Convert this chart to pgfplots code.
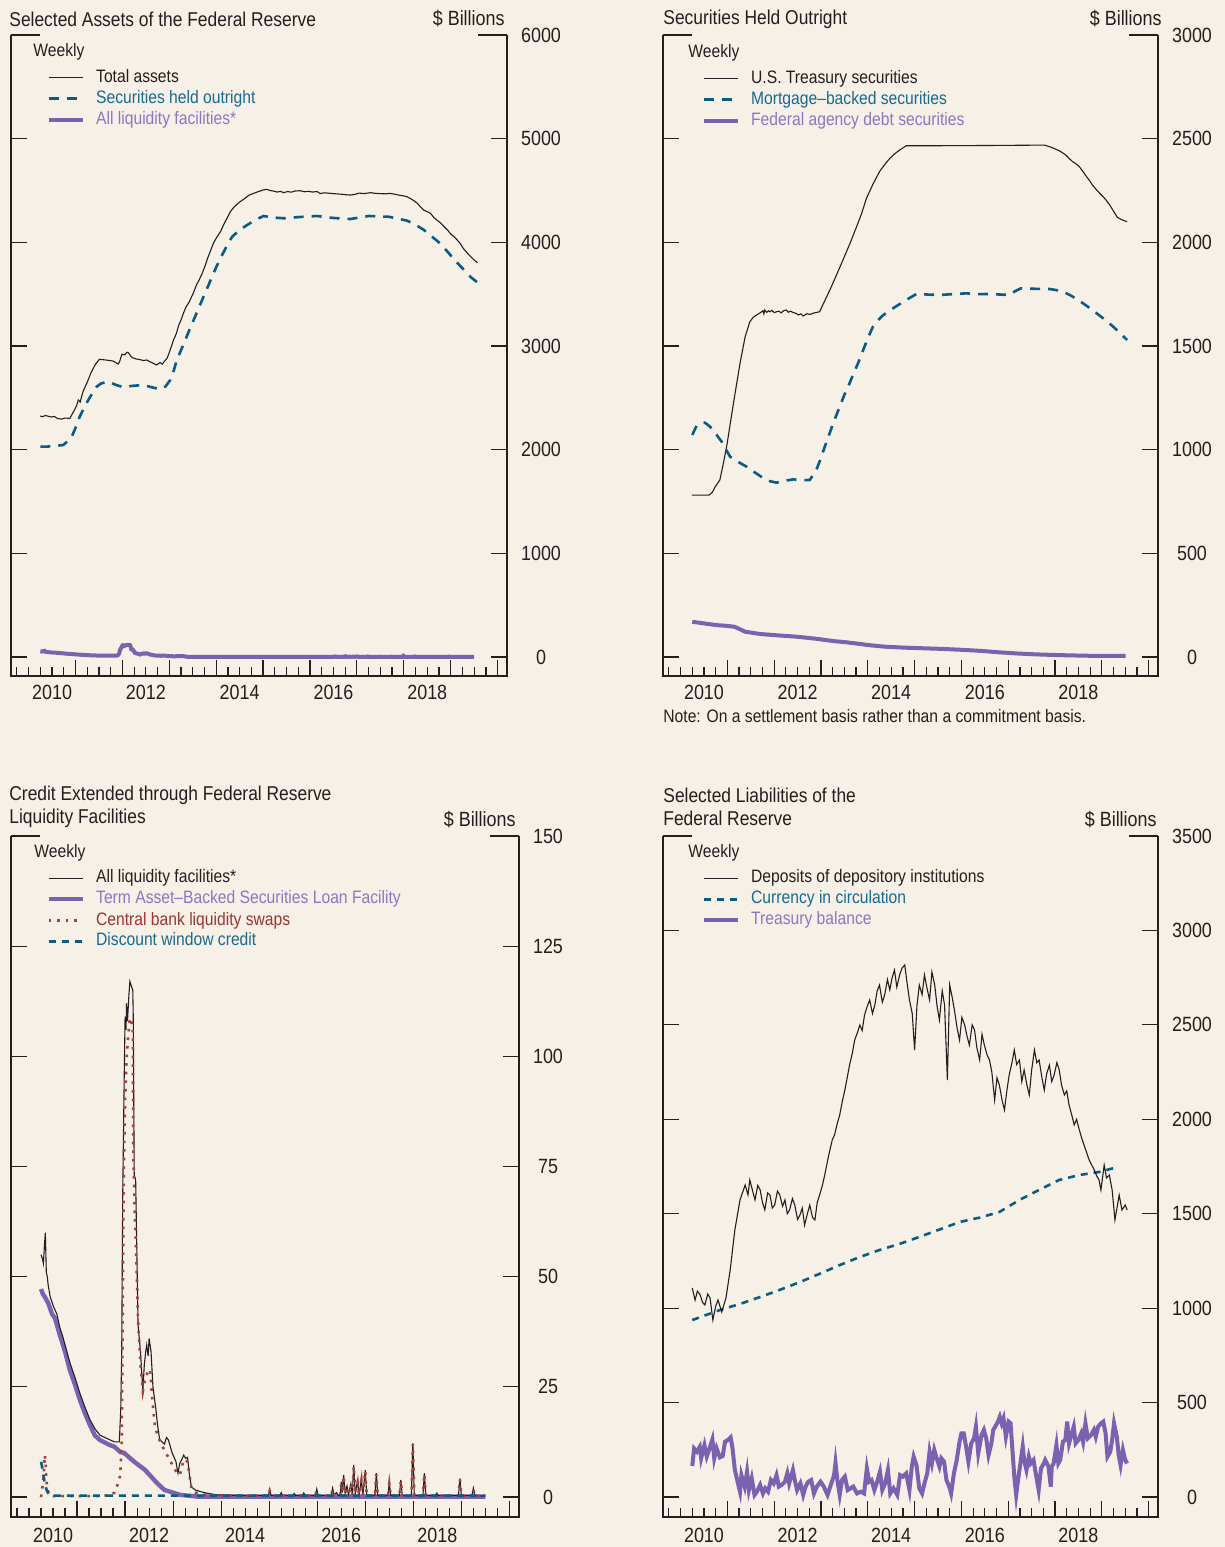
\documentclass[border=0pt]{standalone}
\usepackage{fontspec}
\setmainfont{Liberation Sans}[FakeStretch=0.87]
\usepackage{pgfplots}
\usepackage{pgfplotstable}
\pgfplotsset{compat=1.18}
\definecolor{bg}{HTML}{F7F0E6}
\definecolor{ink}{HTML}{231F20}
\definecolor{fedblue}{HTML}{0B5C82}
\definecolor{fedbluetext}{HTML}{176A90}
\definecolor{fedpurple}{HTML}{7A62B0}
\definecolor{fedpurpletext}{HTML}{8C76C2}
\definecolor{fedred}{HTML}{A3423C}
\definecolor{fedredtext}{HTML}{9A3530}

% ---------- Panel 1 data ----------
\pgfplotstableread{
t v
2010.25 2325
2010.30 2318
2010.36 2330
2010.42 2322
2010.48 2315
2010.55 2320
2010.62 2300
2010.70 2295
2010.78 2305
2010.88 2302
2010.95 2360
2011.02 2420
2011.06 2480
2011.10 2460
2011.16 2560
2011.25 2650
2011.33 2740
2011.42 2820
2011.51 2872
2011.58 2868
2011.65 2865
2011.72 2860
2011.80 2855
2011.86 2840
2011.91 2826
2011.94 2850
2011.99 2920
2012.05 2915
2012.10 2940
2012.13 2935
2012.18 2900
2012.23 2884
2012.30 2875
2012.38 2868
2012.45 2860
2012.52 2865
2012.58 2850
2012.65 2835
2012.73 2817
2012.80 2840
2012.85 2825
2012.90 2855
2012.95 2880
2012.98 2913
2013.04 2990
2013.09 3058
2013.15 3120
2013.20 3200
2013.25 3250
2013.30 3315
2013.36 3380
2013.42 3420
2013.47 3470
2013.51 3508
2013.58 3590
2013.64 3640
2013.70 3700
2013.76 3770
2013.82 3850
2013.88 3920
2013.94 3991
2014.00 4040
2014.09 4102
2014.18 4190
2014.24 4240
2014.30 4295
2014.38 4340
2014.45 4370
2014.51 4392
2014.60 4420
2014.70 4455
2014.80 4473
2014.90 4490
2015.00 4505
2015.08 4511
2015.15 4500
2015.22 4495
2015.30 4485
2015.37 4492
2015.44 4479
2015.52 4490
2015.60 4484
2015.68 4495
2015.79 4498
2015.88 4488
2015.97 4492
2016.05 4485
2016.15 4490
2016.22 4470
2016.30 4478
2016.43 4473
2016.55 4468
2016.65 4465
2016.75 4460
2016.86 4456
2016.95 4462
2017.05 4475
2017.15 4470
2017.29 4479
2017.40 4472
2017.50 4470
2017.60 4468
2017.70 4472
2017.79 4466
2017.90 4455
2018.00 4448
2018.07 4440
2018.15 4420
2018.22 4400
2018.29 4376
2018.36 4340
2018.43 4310
2018.50 4295
2018.57 4280
2018.64 4240
2018.72 4210
2018.79 4185
2018.86 4151
2018.93 4120
2019.00 4080
2019.07 4055
2019.14 4022
2019.20 3990
2019.27 3940
2019.36 3894
2019.43 3860
2019.50 3830
2019.57 3803
}\totalassets

\pgfplotstableread{
t v
2010.25 2029
2010.40 2030
2010.55 2035
2010.74 2045
2010.84 2085
2010.92 2125
2011.00 2210
2011.09 2318
2011.20 2420
2011.30 2500
2011.45 2607
2011.55 2640
2011.70 2656
2011.86 2625
2012.02 2602
2012.20 2615
2012.45 2624
2012.60 2605
2012.80 2582
2012.92 2610
2013.02 2672
2013.10 2770
2013.16 2865
2013.26 2970
2013.37 3090
2013.46 3190
2013.55 3283
2013.64 3380
2013.73 3476
2013.82 3570
2013.91 3668
2014.00 3760
2014.09 3846
2014.22 3960
2014.34 4054
2014.50 4120
2014.66 4167
2014.85 4220
2015.01 4254
2015.20 4240
2015.44 4232
2015.80 4245
2016.15 4254
2016.50 4235
2016.86 4225
2017.25 4254
2017.68 4247
2018.07 4209
2018.25 4170
2018.43 4119
2018.60 4055
2018.79 3984
2018.93 3910
2019.07 3836
2019.25 3750
2019.43 3663
2019.56 3617
}\securities

% ---------- Panel 2 data ----------
\pgfplotstableread{
t v
2010.24 781
2010.61 781
2010.68 795
2010.74 821
2010.84 854
2010.92 940
2010.99 1022
2011.13 1224
2011.27 1416
2011.38 1545
2011.48 1617
2011.55 1638
2011.62 1649
2011.70 1660
2011.76 1670
2011.78 1655
2011.80 1674
2011.84 1662
2011.88 1670
2011.91 1665
2011.95 1672
2012.00 1661
2012.05 1665
2012.10 1668
2012.15 1660
2012.20 1670
2012.26 1674
2012.30 1663
2012.35 1668
2012.41 1661
2012.46 1658
2012.52 1650
2012.57 1655
2012.62 1645
2012.66 1650
2012.70 1656
2012.76 1652
2012.83 1658
2012.90 1662
2012.97 1665
2013.08 1718
2013.19 1770
2013.33 1842
2013.47 1915
2013.62 1995
2013.76 2075
2013.87 2140
2013.97 2212
2014.11 2280
2014.25 2341
2014.36 2375
2014.47 2405
2014.58 2428
2014.68 2445
2014.82 2466
2015.50 2466
2016.50 2467
2017.77 2469
2017.90 2460
2018.02 2449
2018.12 2438
2018.23 2421
2018.30 2405
2018.37 2390
2018.45 2378
2018.52 2365
2018.60 2340
2018.67 2318
2018.73 2300
2018.80 2276
2018.88 2255
2018.95 2238
2019.02 2222
2019.09 2204
2019.17 2180
2019.25 2150
2019.33 2121
2019.40 2112
2019.47 2105
2019.54 2100
}\treasury

\pgfplotstableread{
t v
2010.25 1071
2010.35 1119
2010.44 1128
2010.52 1130
2010.61 1115
2010.70 1095
2010.79 1065
2010.88 1038
2010.97 1000
2011.06 966
2011.24 940
2011.41 918
2011.59 890
2011.77 862
2011.91 848
2012.05 841
2012.23 850
2012.41 857
2012.58 852
2012.76 854
2012.90 902
2013.00 960
2013.08 1014
2013.17 1070
2013.26 1127
2013.40 1207
2013.50 1265
2013.61 1320
2013.70 1370
2013.79 1416
2013.93 1497
2014.02 1548
2014.11 1593
2014.20 1620
2014.29 1641
2014.42 1665
2014.54 1682
2014.68 1702
2014.82 1722
2015.04 1751
2015.30 1748
2015.53 1746
2015.80 1750
2016.10 1754
2016.35 1750
2016.60 1751
2016.85 1748
2017.03 1746
2017.15 1765
2017.27 1778
2017.55 1776
2017.88 1775
2018.02 1770
2018.17 1762
2018.35 1742
2018.52 1718
2018.70 1690
2018.87 1661
2019.05 1630
2019.23 1596
2019.40 1560
2019.54 1529
}\mbs

\pgfplotstableread{
t v
2010.25 170
2010.50 162
2010.76 154
2011.00 150
2011.15 146
2011.25 136
2011.38 122
2011.70 111
2012.10 104
2012.48 98
2012.90 88
2013.26 77
2013.50 72
2013.73 66
2014.00 58
2014.35 50
2014.80 45
2015.21 42
2015.60 39
2016.07 34
2016.45 29
2016.78 23
2017.20 17
2017.56 13
2017.95 10
2018.30 8
2018.73 6
2019.10 6
2019.51 6
}\agency

% ---------- Panel 3 data ----------
\pgfplotstableread{
t v
2010.25 55
2010.28 54
2010.30 53
2010.32 57
2010.34 60
2010.36 51
2010.38 50
2010.40 48
2010.44 45.5
2010.51 43.2
2010.58 41.5
2010.64 38.5
2010.70 36.5
2010.75 34.5
2010.85 30.5
2010.96 27
2011.06 23.5
2011.16 20.5
2011.27 17.5
2011.37 15.5
2011.48 14
2011.58 13.5
2011.68 13
2011.78 12.5
2011.88 12.5
2011.91 20
2011.93 33
2011.95 68
2011.98 94
2012.00 109
2012.02 106
2012.03 112
2012.05 108
2012.08 114
2012.10 117
2012.13 116
2012.16 115
2012.17 109
2012.19 73
2012.22 72
2012.27 39
2012.32 33
2012.37 24
2012.40 30
2012.43 33
2012.45 34.5
2012.48 32
2012.50 36
2012.54 33
2012.58 25
2012.64 20
2012.68 16
2012.72 13
2012.77 12.5
2012.82 12
2012.86 13.5
2012.90 13
2012.98 10
2013.06 8
2013.10 5.4
2013.14 7.7
2013.18 8.5
2013.22 9.5
2013.26 8.8
2013.30 9
2013.34 5
2013.38 2.3
2013.46 1.6
2013.58 1.2
2013.69 0.9
2013.90 0.5
2014.20 0.4
2014.60 0.3
2014.98 0.3
2015.01 1.5
2015.04 0.3
2015.22 0.3
2015.25 1.0
2015.28 0.3
2015.49 0.3
2015.52 0.8
2015.55 0.3
2015.69 0.3
2015.72 0.9
2015.75 0.3
2015.96 0.3
2015.99 1.8
2016.02 0.3
2016.29 0.3
2016.32 2.0
2016.35 0.5
2016.40 1.0
2016.44 0.3
2016.48 0.5
2016.50 3.5
2016.52 1.0
2016.55 5.0
2016.58 0.8
2016.62 2.5
2016.65 0.5
2016.70 3.0
2016.73 0.6
2016.76 7.3
2016.79 0.8
2016.84 3.5
2016.87 0.5
2016.92 4.0
2016.95 0.5
2017.00 6.1
2017.03 0.4
2017.20 0.3
2017.23 5.4
2017.26 0.3
2017.47 0.3
2017.50 3.2
2017.53 0.3
2017.71 0.3
2017.74 3.9
2017.77 0.3
2017.96 0.3
2017.99 12.2
2018.02 0.3
2018.20 0.3
2018.23 5.4
2018.26 0.3
2018.46 0.3
2018.49 0.9
2018.52 0.3
2018.94 0.3
2018.97 4.2
2019.00 0.3
2019.22 0.3
2019.25 2.0
2019.28 0.3
2019.50 0.2
}\liquidity

\pgfplotstableread{
t v
2010.25 0
2010.29 3
2010.31 6
2010.33 9.5
2010.35 7
2010.36 4
2010.38 2
2010.42 0.5
2010.50 0.2
2011.50 0.2
2011.70 0.5
2011.78 1
2011.85 3
2011.90 5
2011.93 13
2011.95 40
2011.97 71
2012.00 90
2012.03 99
2012.06 104
2012.10 108.7
2012.13 108
2012.16 106
2012.17 79
2012.20 65
2012.24 52
2012.27 40
2012.32 30
2012.37 24
2012.42 27
2012.46 28
2012.52 29
2012.56 23
2012.62 16
2012.68 14
2012.75 12
2012.85 10
2012.95 8
2013.05 6
2013.14 5
2013.22 8.5
2013.30 8
2013.38 2
2013.46 1
2013.69 0.5
2013.90 0.3
2014.60 0.3
2014.98 0.3
2015.01 1.4
2015.04 0.3
2015.96 0.3
2015.99 1.6
2016.02 0.3
2016.29 0.3
2016.32 1.8
2016.35 0.4
2016.48 0.4
2016.50 3.3
2016.52 0.9
2016.55 4.8
2016.58 0.7
2016.62 2.3
2016.65 0.4
2016.70 2.8
2016.73 0.5
2016.76 7.0
2016.79 0.7
2016.84 3.3
2016.87 0.4
2016.92 3.8
2016.95 0.4
2017.00 5.9
2017.03 0.3
2017.20 0.3
2017.23 5.2
2017.26 0.3
2017.47 0.3
2017.50 3.0
2017.53 0.3
2017.71 0.3
2017.74 3.7
2017.77 0.3
2017.96 0.3
2017.99 12.0
2018.02 0.3
2018.20 0.3
2018.23 5.2
2018.26 0.3
2018.94 0.3
2018.97 4.0
2019.00 0.3
2019.22 0.3
2019.25 1.8
2019.28 0.3
2019.50 0.2
}\swaps

\pgfplotstableread{
t v
2010.25 8
2010.27 7
2010.30 5
2010.33 3
2010.37 1.5
2010.42 0.5
2010.50 0.3
2019.50 0.3
}\discount

\pgfplotstableread{
t v
2010.25 47.2
2010.29 46
2010.33 45.4
2010.40 44
2010.48 41.5
2010.54 40.6
2010.64 36.8
2010.75 33
2010.85 28.8
2010.96 25.4
2011.06 22
2011.16 19.1
2011.27 16.3
2011.37 14
2011.48 12.9
2011.68 11.8
2011.78 11.4
2011.90 10.2
2011.98 10
2012.19 8
2012.42 6.1
2012.66 3.2
2012.82 1.6
2013.14 0.5
2013.50 0.1
2019.50 0.1
}\talf

% ---------- Panel 4 data ----------
\pgfplotstableread{
t v
2010.25 1107
2010.31 1043
2010.36 1090
2010.42 1070
2010.47 1030
2010.52 1017
2010.58 1075
2010.63 1054
2010.69 937
2010.75 1010
2010.80 1043
2010.88 980
2010.97 1054
2011.06 1202
2011.16 1414
2011.27 1573
2011.38 1652
2011.44 1600
2011.48 1679
2011.54 1620
2011.59 1573
2011.65 1650
2011.70 1626
2011.75 1560
2011.80 1520
2011.86 1610
2011.91 1599
2011.96 1530
2012.01 1546
2012.07 1620
2012.12 1599
2012.18 1540
2012.23 1573
2012.28 1500
2012.33 1520
2012.39 1580
2012.44 1546
2012.50 1470
2012.55 1493
2012.60 1530
2012.65 1440
2012.71 1500
2012.76 1546
2012.82 1480
2012.87 1467
2012.92 1560
2012.97 1599
2013.03 1650
2013.08 1705
2013.14 1780
2013.19 1837
2013.24 1890
2013.29 1917
2013.35 1980
2013.40 2023
2013.46 2100
2013.51 2155
2013.56 2220
2013.61 2287
2013.67 2350
2013.72 2420
2013.78 2460
2013.83 2499
2013.88 2470
2013.93 2552
2013.99 2600
2014.04 2632
2014.10 2560
2014.15 2605
2014.20 2680
2014.25 2711
2014.31 2620
2014.36 2658
2014.42 2740
2014.47 2685
2014.52 2750
2014.57 2790
2014.62 2700
2014.68 2764
2014.73 2800
2014.79 2817
2014.84 2720
2014.89 2632
2014.95 2560
2015.00 2367
2015.05 2600
2015.10 2711
2015.16 2660
2015.21 2764
2015.26 2700
2015.32 2632
2015.37 2780
2015.43 2711
2015.48 2600
2015.53 2526
2015.59 2680
2015.64 2605
2015.70 2208
2015.75 2711
2015.80 2650
2015.85 2579
2015.91 2480
2015.96 2420
2016.01 2540
2016.07 2499
2016.12 2440
2016.17 2393
2016.23 2500
2016.28 2473
2016.33 2380
2016.39 2314
2016.44 2450
2016.49 2393
2016.55 2340
2016.60 2314
2016.65 2250
2016.71 2102
2016.76 2220
2016.81 2182
2016.87 2100
2016.92 2049
2016.97 2150
2017.02 2234
2017.08 2300
2017.13 2367
2017.18 2290
2017.24 2314
2017.29 2200
2017.34 2261
2017.40 2180
2017.45 2129
2017.50 2260
2017.56 2367
2017.61 2300
2017.66 2314
2017.72 2220
2017.77 2155
2017.82 2240
2017.88 2287
2017.93 2200
2017.98 2234
2018.04 2300
2018.09 2261
2018.14 2180
2018.20 2129
2018.25 2150
2018.30 2076
2018.36 2020
2018.41 1970
2018.46 2000
2018.52 1943
2018.57 1900
2018.62 1864
2018.68 1820
2018.73 1784
2018.78 1760
2018.84 1731
2018.89 1700
2018.94 1679
2018.98 1626
2019.02 1700
2019.05 1758
2019.10 1690
2019.16 1705
2019.22 1626
2019.28 1467
2019.33 1540
2019.37 1599
2019.43 1520
2019.50 1546
2019.54 1520
}\deposits

\pgfplotstableread{
t v
2010.25 937
2010.84 990
2011.30 1025
2011.70 1059
2012.10 1095
2012.55 1138
2013.00 1185
2013.40 1228
2013.80 1268
2014.25 1308
2014.70 1342
2015.10 1377
2015.55 1418
2015.96 1456
2016.40 1480
2016.81 1509
2017.24 1573
2017.66 1626
2018.09 1679
2018.52 1705
2018.94 1721
2019.26 1742
}\currency

\pgfplotstableread{
t v
2010.25 164
2010.29 257
2010.35 240
2010.41 266
2010.44 205
2010.51 275
2010.56 214
2010.62 258
2010.68 305
2010.72 205
2010.77 258
2010.84 210
2010.90 217
2010.95 293
2011.01 302
2011.07 316
2011.11 258
2011.16 143
2011.21 90
2011.27 28
2011.30 116
2011.37 55
2011.42 134
2011.46 37
2011.52 99
2011.58 11
2011.63 28
2011.70 64
2011.76 19
2011.81 46
2011.87 28
2011.93 90
2011.99 72
2012.05 116
2012.10 55
2012.16 64
2012.23 81
2012.28 125
2012.32 72
2012.40 143
2012.44 90
2012.49 37
2012.56 72
2012.62 11
2012.67 55
2012.73 81
2012.79 90
2012.85 19
2012.91 55
2012.99 81
2013.06 55
2013.14 11
2013.22 72
2013.28 116
2013.31 182
2013.35 90
2013.40 11
2013.45 90
2013.51 108
2013.57 37
2013.63 46
2013.69 55
2013.77 19
2013.85 28
2013.92 19
2013.98 152
2014.03 81
2014.08 90
2014.14 37
2014.20 81
2014.26 134
2014.31 37
2014.37 72
2014.43 143
2014.48 19
2014.55 46
2014.63 11
2014.69 116
2014.75 108
2014.82 125
2014.89 37
2014.94 161
2014.98 214
2015.04 169
2015.10 46
2015.16 19
2015.21 72
2015.27 125
2015.32 240
2015.37 178
2015.42 249
2015.46 214
2015.53 161
2015.57 205
2015.63 187
2015.68 90
2015.74 55
2015.78 19
2015.84 125
2015.90 196
2015.96 293
2016.00 337
2016.05 337
2016.10 267
2016.15 187
2016.21 284
2016.27 311
2016.31 372
2016.36 231
2016.43 328
2016.48 355
2016.53 311
2016.58 222
2016.64 284
2016.68 355
2016.74 381
2016.78 399
2016.82 425
2016.86 390
2016.90 417
2016.95 319
2017.01 399
2017.05 390
2017.09 249
2017.13 108
2017.17 11
2017.21 90
2017.26 178
2017.31 267
2017.34 196
2017.39 143
2017.44 214
2017.48 178
2017.54 196
2017.60 108
2017.65 37
2017.70 152
2017.76 178
2017.79 196
2017.86 161
2017.91 55
2017.93 161
2017.97 178
2018.03 275
2018.07 178
2018.11 196
2018.17 293
2018.22 302
2018.26 399
2018.30 284
2018.36 337
2018.40 372
2018.44 284
2018.50 302
2018.56 337
2018.60 293
2018.65 390
2018.70 311
2018.77 328
2018.83 355
2018.87 319
2018.92 372
2018.98 390
2019.03 399
2019.08 337
2019.12 214
2019.18 240
2019.22 302
2019.26 390
2019.32 319
2019.36 222
2019.40 169
2019.45 249
2019.50 196
2019.54 178
}\tbalance

\pgfplotsset{
  fedaxis/.style={
    scale only axis,
    anchor=south west,
    clip=false,
    xmin=2009.625, xmax=2020.2,
    axis line style={draw=none},
    tick align=inside,
    xtick pos=left,
    ytick pos=both,
    yticklabel pos=right,
    xtick={2011,2012,...,2020},
    xticklabels={2010,,2012,,2014,,2016,,2018,},
    minor xtick={2009.75,2010,2010.25,2010.5,2010.75,2011.25,2011.5,2011.75,2012.25,2012.5,2012.75,2013.25,2013.5,2013.75,2014.25,2014.5,2014.75,2015.25,2015.5,2015.75,2016.25,2016.5,2016.75,2017.25,2017.5,2017.75,2018.25,2018.5,2018.75,2019.25,2019.5,2019.75},
    major tick length=8pt,
    minor tick length=4.5pt,
    every tick/.style={ink, line width=0.6pt},
    ticklabel style={font=\fontsize{10.3}{12}\selectfont, text=ink},
    /pgf/number format/assume math mode=true,
    yticklabel style={anchor=center, /pgf/number format/1000 sep={}},
    xticklabel style={anchor=center, yshift=-8pt, xshift=-11.7pt},
    scaled y ticks=false,
    legend cell align=left,
    legend style={draw=none, fill=none, anchor=north west, inner sep=0pt, outer sep=0pt,
      row sep=0.5pt, column sep=5pt, font=\fontsize{9}{10}\selectfont,
      nodes={inner sep=0.75pt, text height=6.5pt, text depth=2pt}},
  },
}
\tikzset{
  weekly/.style={anchor=west, inner sep=0pt, text=ink, font=\fontsize{9}{10}\selectfont},
  frame/.style={ink, line width=0.8pt},
  toptick/.style={ink, line width=0.6pt},
  ttl/.style={anchor=west, inner sep=0pt, text=ink, font=\fontsize{10}{12}\selectfont},
  unit/.style={anchor=east, inner sep=0pt, text=ink, font=\fontsize{10.3}{12}\selectfont},
}

\begin{document}
\begin{tikzpicture}
\useasboundingbox (0,0) rectangle (612.5pt,-773.5pt);
\fill[bg] (0,0) rectangle (612.5pt,-773.5pt);

% ================= Panel 1 =================
\node[ttl] at (4.5pt,-9.5pt) {Selected Assets of the Federal Reserve};
\node[unit] at (252.5pt,-9.5pt) {\$ Billions};
\begin{axis}[fedaxis, name=p1, at={(5.5pt,-338pt)},
  width=248pt, height=320.5pt,
  ymin=-183.3, ymax=6000, ytick={0,1000,...,6000},
  yticklabel style={xshift=17pt},
  legend style={at={(axis description cs:0.0716,0.9493)}}]
\addplot[ink, line width=0.55pt] table[x=t,y=v] {\totalassets};
\addlegendentry{\textcolor{ink}{Total assets}}
\addplot[fedblue, line width=1.3pt, dash pattern=on 5pt off 4pt] table[x=t,y=v] {\securities};
\addlegendentry{\textcolor{fedbluetext}{Securities held outright}}
\addplot[fedpurple, line width=2pt] table[x=t,y=v] {\liquidity};
\addlegendentry{\textcolor{fedpurpletext}{All liquidity facilities*}}
\node[weekly] at (axis description cs:0.0444,0.9735) {Weekly};
\end{axis}
\draw[frame] (p1.north west) -- (p1.south west) -- (p1.south east) -- (p1.north east);
\draw[toptick] (p1.north west) -- ++(14.5pt,0) (p1.north east) -- ++(-14.5pt,0);

% ================= Panel 2 =================
\node[ttl] at (331.5pt,-9.5pt) {Securities Held Outright};
\node[unit] at (581pt,-9.5pt) {\$ Billions};
\begin{axis}[fedaxis, name=p2, at={(331.5pt,-338pt)},
  width=247.5pt, height=320.5pt,
  ymin=-91.6, ymax=3000, ytick={0,500,...,3000},
  yticklabel style={xshift=17pt},
  legend style={at={(axis description cs:0.0778,0.9477)}}]
\addplot[ink, line width=0.55pt] table[x=t,y=v] {\treasury};
\addlegendentry{\textcolor{ink}{U.S. Treasury securities}}
\addplot[fedblue, line width=1.3pt, dash pattern=on 5pt off 4pt] table[x=t,y=v] {\mbs};
\addlegendentry{\textcolor{fedbluetext}{Mortgage--backed securities}}
\addplot[fedpurple, line width=2pt] table[x=t,y=v] {\agency};
\addlegendentry{\textcolor{fedpurpletext}{Federal agency debt securities}}
\node[weekly] at (axis description cs:0.0505,0.9719) {Weekly};
\end{axis}
\draw[frame] (p2.north west) -- (p2.south west) -- (p2.south east) -- (p2.north east);
\draw[toptick] (p2.north west) -- ++(14.5pt,0) (p2.north east) -- ++(-14.5pt,0);
\node[anchor=west, inner sep=0pt, text=ink, font=\fontsize{9}{10}\selectfont] at (331.5pt,-358pt) {Note: On a settlement basis rather than a commitment basis.};

% ================= Panel 3 =================
\node[ttl] at (4.5pt,-397.5pt) {Credit Extended through Federal Reserve};
\node[ttl] at (4.5pt,-409pt) {Liquidity Facilities};
\node[unit] at (258pt,-410pt) {\$ Billions};
\begin{axis}[fedaxis, name=p3, at={(5.5pt,-758.5pt)},
  width=254pt, height=340.5pt,
  ymin=-4.54, ymax=150, ytick={0,25,...,150},
  yticklabel style={xshift=14.5pt},
  xticklabel style={xshift=-0.3pt, yshift=-1pt},
  legend style={at={(axis description cs:0.0699,0.9523)}}]
\addlegendimage{ink, line width=0.55pt}
\addlegendentry{\textcolor{ink}{All liquidity facilities*}}
\addlegendimage{fedpurple, line width=2pt}
\addlegendentry{\textcolor{fedpurpletext}{Term Asset--Backed Securities Loan Facility}}
\addlegendimage{fedred, line width=1.3pt, dash pattern=on 1.3pt off 3pt}
\addlegendentry{\textcolor{fedredtext}{Central bank liquidity swaps}}
\addlegendimage{fedblue, line width=1.3pt, dash pattern=on 3.5pt off 3pt}
\addlegendentry{\textcolor{fedbluetext}{Discount window credit}}
\addplot[fedpurple, line width=2.2pt, forget plot] table[x=t,y=v] {\talf};
\addplot[ink, line width=0.55pt, forget plot] table[x=t,y=v] {\liquidity};
\addplot[fedred, line width=1.3pt, dash pattern=on 1.3pt off 3pt, forget plot] table[x=t,y=v] {\swaps};
\addplot[fedblue, line width=1.3pt, dash pattern=on 3.5pt off 3pt, forget plot] table[x=t,y=v] {\discount};
\node[weekly] at (axis description cs:0.0453,0.9751) {Weekly};
\end{axis}
\draw[frame] (p3.north west) -- (p3.south west) -- (p3.south east) -- (p3.north east);
\draw[toptick] (p3.north west) -- ++(14.5pt,0) (p3.north east) -- ++(-14.5pt,0);

% ================= Panel 4 =================
\node[ttl] at (331.5pt,-397.5pt) {Selected Liabilities of the};
\node[ttl] at (331.5pt,-409pt) {Federal Reserve};
\node[unit] at (578.5pt,-410pt) {\$ Billions};
\begin{axis}[fedaxis, name=p4, at={(331.5pt,-758.5pt)},
  width=247.5pt, height=340.5pt,
  ymin=-105.9, ymax=3500, ytick={0,500,...,3500},
  yticklabel style={xshift=17pt},
  xticklabel style={yshift=-1pt},
  legend style={at={(axis description cs:0.0778,0.9523)}}]
\addlegendimage{ink, line width=0.55pt}
\addlegendentry{\textcolor{ink}{Deposits of depository institutions}}
\addlegendimage{fedblue, line width=1.3pt, dash pattern=on 3.5pt off 3pt}
\addlegendentry{\textcolor{fedbluetext}{Currency in circulation}}
\addlegendimage{fedpurple, line width=2pt}
\addlegendentry{\textcolor{fedpurpletext}{Treasury balance}}
\addplot[fedpurple, line width=2pt, forget plot] table[x=t,y=v] {\tbalance};
\addplot[fedblue, line width=1.3pt, dash pattern=on 3.5pt off 3pt, forget plot] table[x=t,y=v] {\currency};
\addplot[ink, line width=0.55pt, forget plot] table[x=t,y=v] {\deposits};
\node[weekly] at (axis description cs:0.0505,0.9751) {Weekly};
\end{axis}
\draw[frame] (p4.north west) -- (p4.south west) -- (p4.south east) -- (p4.north east);
\draw[toptick] (p4.north west) -- ++(14.5pt,0) (p4.north east) -- ++(-14.5pt,0);
\end{tikzpicture}
\end{document}
